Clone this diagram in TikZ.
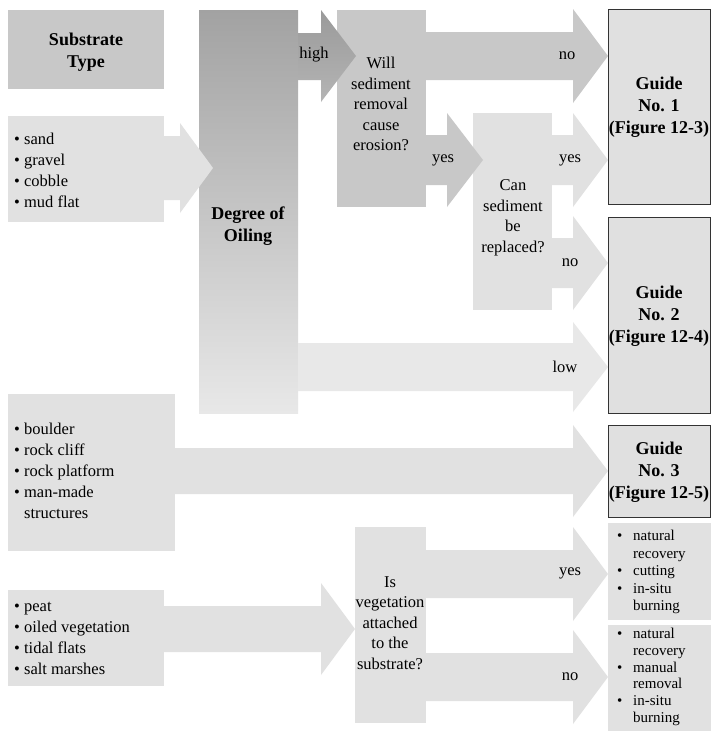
\documentclass[tikz,border=0pt]{standalone}
\usepackage{fontspec}
\setmainfont{Liberation Serif}
\definecolor{midg}{HTML}{C8C8C8}
\definecolor{lightg}{HTML}{E1E1E1}
\definecolor{darkg}{HTML}{A2A2A2}
\definecolor{lowg}{HTML}{E8E8E8}
\definecolor{guideg}{HTML}{E0E0E0}
% block arrow: options, x start, x head, x tip, y centre, shaft half, head half
\newcommand\blockarr[7]{\fill[#1] (#2,#5-#6) -- (#3,#5-#6) -- (#3,#5-#7) -- (#4,#5) -- (#3,#5+#7) -- (#3,#5+#6) -- (#2,#5+#6) -- cycle;}
\begin{document}
\begin{tikzpicture}[x=1pt,y=-1pt,
  txt/.style={font=\fontsize{16.5}{20.5}\selectfont,align=center,inner sep=0pt},
  btxt/.style={font=\bfseries\fontsize{18}{22}\selectfont,align=center,inner sep=0pt},
  ltxt/.style={font=\fontsize{16.5}{21}\selectfont,align=left,inner sep=0pt,anchor=west},
  rtxt/.style={font=\fontsize{15}{17.5}\selectfont,align=left,inner sep=0pt,anchor=west},
  guidebox/.style={fill=guideg, draw=black!80, line width=1pt}]
\useasboundingbox (0,0) rectangle (711,731);
\fill[white] (0,0) rectangle (711,731);
% boxes
\fill[midg] (8,10) rectangle (164,89);
\node[btxt] (subtype) at (86,52) {Substrate\\Type};
\fill[lightg] (8,116) rectangle (164,222);
\shade[top color=darkg, middle color=midg!90, bottom color=lowg] (199,10) rectangle (298,413);
\fill[midg] (337,10) rectangle (426,207);
\fill[lightg] (473,113) rectangle (552,310);
\fill[lightg] (8,394) rectangle (175,551);
\fill[lightg] (8,590) rectangle (164,686);
\fill[lightg] (355,527) rectangle (426,723);
\draw[guidebox] (608.5,9.5) rectangle (710.5,204.5);
\draw[guidebox] (608.5,217.5) rectangle (710.5,413.5);
\draw[guidebox] (608.5,425.5) rectangle (710.5,517.5);
\fill[lightg] (608,523) rectangle (711,620);
\fill[lightg] (608,625) rectangle (711,731);
% arrows
\blockarr{lightg}{164}{180}{213}{168}{32}{45}
\shade[top color=darkg!95!black, bottom color=darkg!80!white] (298,33) -- (321,33) -- (321,10) -- (356,56) -- (321,102) -- (321,80) -- (298,80) -- cycle;
\blockarr{lowg}{298}{573}{608}{367}{24}{45}
\blockarr{midg}{426}{573}{608}{56}{24}{47}
\blockarr{midg}{426}{447}{483}{160}{25}{47}
\blockarr{lightg}{552}{573}{608}{160}{25}{47}
\blockarr{lightg}{552}{573}{608}{263}{25}{47}
\blockarr{lightg}{175}{573}{608}{471}{23}{46}
\blockarr{lightg}{164}{321}{355}{629}{23}{46}
\blockarr{lightg}{426}{573}{608}{574}{24}{47}
\blockarr{lightg}{426}{573}{608}{677}{24}{47}
% texts
\node[ltxt] (sand) at (14,170) {• sand\\• gravel\\• cobble\\• mud flat};
\node[btxt] (oil) at (248,226) {Degree of\\Oiling};
\node[txt] (high) at (314,55) {high};
\node[txt] (will) at (381,104) {Will\\sediment\\removal\\cause\\erosion?};
\node[txt] (no1) at (567,56) {no};
\node[txt] (yes1) at (443,160) {yes};
\node[txt] (can) at (513,218) {Can\\sediment\\be\\replaced?};
\node[txt] (yes2) at (570,160) {yes};
\node[txt] (no2) at (570,263) {no};
\node[txt] (low) at (565,367) {low};
\node[btxt] (g1) at (659,107) {Guide\\No. 1\\(Figure 12-3)};
\node[btxt] (g2) at (659,316) {Guide\\No. 2\\(Figure 12-4)};
\node[btxt] (g3) at (659,472) {Guide\\No. 3\\(Figure 12-5)};
\node[ltxt] (boulder) at (14,471) {• boulder\\• rock cliff\\• rock platform\\• man-made\\\hphantom{• }structures};
\node[ltxt] (peat) at (14,638) {• peat\\• oiled vegetation\\• tidal flats\\• salt marshes};
\node[txt] (isveg) at (390,623) {Is\\vegetation\\attached\\to the\\substrate?};
\node[txt] (yes3) at (570,573) {yes};
\node[txt] (no3) at (570,677) {no};
\node[rtxt] (r1) at (617,572) {\makebox[16pt][l]{•}natural\\\hspace*{16pt}recovery\\\makebox[16pt][l]{•}cutting\\\makebox[16pt][l]{•}in-situ\\\hspace*{16pt}burning};
\node[rtxt, font=\fontsize{15}{16.8}\selectfont] (r2) at (617,677) {\makebox[16pt][l]{•}natural\\\hspace*{16pt}recovery\\\makebox[16pt][l]{•}manual\\\hspace*{16pt}removal\\\makebox[16pt][l]{•}in-situ\\\hspace*{16pt}burning};
\end{tikzpicture}
\end{document}
